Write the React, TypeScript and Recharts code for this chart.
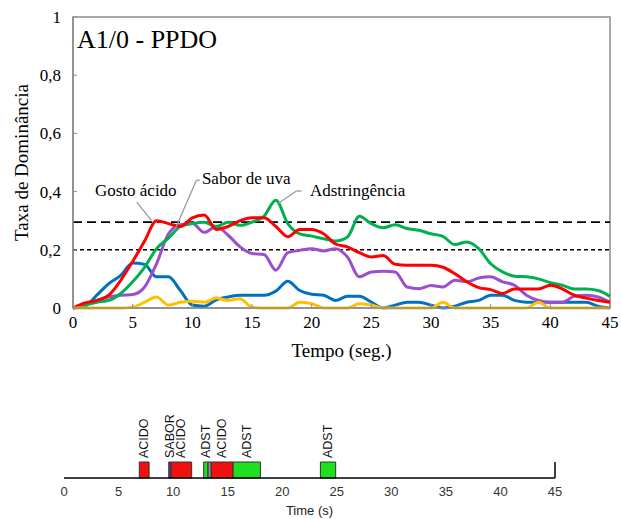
import React from "react";
import {
  LineChart,
  Line,
  XAxis,
  YAxis,
  ReferenceLine,
  ReferenceArea,
  ReferenceDot,
  Label,
  BarChart,
  Bar,
} from "recharts";

// --- painel superior: taxa de dominância (TDS) ---
const tempo = Array.from({ length: 46 }, (_, i) => i);

const gostoAcido = [
  0, 0.017, 0.026, 0.044, 0.095, 0.16, 0.23, 0.3, 0.29, 0.28, 0.31, 0.32, 0.27, 0.28, 0.3, 0.31,
  0.31, 0.28, 0.245, 0.27, 0.27, 0.255, 0.22, 0.21, 0.19, 0.175, 0.18, 0.15, 0.147, 0.147, 0.147,
  0.14, 0.118, 0.09, 0.07, 0.063, 0.05, 0.065, 0.065, 0.065, 0.078, 0.066, 0.044, 0.034, 0.026, 0.02,
];
const saborUva = [
  0, 0.01, 0.026, 0.038, 0.044, 0.046, 0.072, 0.152, 0.255, 0.286, 0.29, 0.26, 0.28, 0.25, 0.21,
  0.187, 0.184, 0.13, 0.19, 0.198, 0.204, 0.196, 0.204, 0.175, 0.107, 0.124, 0.126, 0.124, 0.072,
  0.066, 0.077, 0.072, 0.095, 0.09, 0.103, 0.107, 0.09, 0.078, 0.044, 0.026, 0.02, 0.02, 0.04,
  0.044, 0.038, 0.02,
];
const adstringencia = [
  0, 0.01, 0.02, 0.026, 0.05, 0.09, 0.14, 0.204, 0.24, 0.28, 0.29, 0.295, 0.28, 0.295, 0.284,
  0.295, 0.315, 0.37, 0.29, 0.255, 0.247, 0.238, 0.23, 0.244, 0.315, 0.29, 0.276, 0.286, 0.273,
  0.267, 0.255, 0.246, 0.218, 0.227, 0.204, 0.152, 0.124, 0.109, 0.107, 0.1, 0.087, 0.078, 0.065,
  0.065, 0.06, 0.04,
];
const outroAzul = [
  0, 0.006, 0.044, 0.084, 0.112, 0.155, 0.15, 0.107, 0.107, 0.06, 0.01, 0.006, 0.028, 0.038,
  0.044, 0.044, 0.044, 0.058, 0.092, 0.06, 0.047, 0.044, 0.026, 0.04, 0.04, 0.02, 0, 0.01, 0.02,
  0.02, 0.01, 0, 0.006, 0.02, 0.026, 0.044, 0.044, 0.026, 0.02, 0.02, 0.02, 0.02, 0.02, 0.02,
  0.006, 0,
];
const outroAmarelo = [
  0, 0, 0, 0, 0, 0.003, 0.02, 0.038, 0.01, 0.02, 0.023, 0.02, 0.034, 0.026, 0.032, 0.003, 0, 0,
  0, 0.02, 0.015, 0, 0, 0, 0.015, 0.01, 0, 0, 0, 0, 0, 0.02, 0, 0, 0, 0, 0, 0, 0, 0.02, 0, 0, 0,
  0, 0, 0,
];

const yTicks = [0, 0.2, 0.4, 0.6, 0.8, 1];
const xTicks = [0, 5, 10, 15, 20, 25, 30, 35, 40, 45];
const limiteChance = 0.2;
const limiteSignificancia = 0.295;

// anotações (coordenadas em unidades dos dados)
const anotacoes = [
  { texto: "Gosto ácido", x: 5.26, y: 0.385, anchor: "middle" },
  { texto: "Sabor de uva", x: 10.8, y: 0.425, anchor: "start" },
  { texto: "Adstringência", x: 19.85, y: 0.385, anchor: "start" },
];
const guias = [
  [{ x: 5.34, y: 0.364 }, { x: 6.57, y: 0.301 }],
  [{ x: 8.52, y: 0.267 }, { x: 10.34, y: 0.439 }],
  [{ x: 10.34, y: 0.439 }, { x: 10.62, y: 0.439 }],
  [{ x: 17.18, y: 0.359 }, { x: 18.73, y: 0.402 }],
  [{ x: 18.73, y: 0.402 }, { x: 19.15, y: 0.402 }],
];

// --- painel inferior: atributos dominantes ---
const segInicio = [6.9, 9.6, 9.8, 12.8, 13.2, 13.5, 15.5, 23.5];
const segFim = [7.8, 9.8, 11.7, 13.2, 13.5, 15.5, 18.0, 24.9];
const segAtributo = ["ACIDO", "SABOR", "ACIDO", "ADST", "", "ACIDO", "ADST", "ADST"];
const corAtributo: Record<string, string> = {
  ACIDO: "#F01010",
  SABOR: "#5B2FB8",
  ADST: "#1FE01F",
  "": "#8C8C8C",
};

const dados = tempo.map((t, i) => ({
  t,
  acido: gostoAcido[i],
  uva: saborUva[i],
  adst: adstringencia[i],
  azul: outroAzul[i],
  amarelo: outroAmarelo[i],
}));

const linhaTempo: Record<string, any> = { lane: "dom" };
{
  let anterior = 0;
  segInicio.forEach((s, i) => {
    linhaTempo[`gap${i}`] = +(s - anterior).toFixed(3);
    linhaTempo[`seg${i}`] = +(segFim[i] - s).toFixed(3);
    anterior = segFim[i];
  });
}

const SERIF = "'Liberation Serif', 'Times New Roman', serif";
const SANS = "'Liberation Sans', Arial, sans-serif";
const CINZA = "#8c8c8c";

const rotuloVertical = (texto: string) => (p: any) => {
  if (!texto) return null;
  const cx = p.x + p.width / 2;
  const y = p.y - 4;
  return (
    <text
      x={cx}
      y={y}
      transform={`rotate(-90 ${cx} ${y})`}
      textAnchor="start"
      dominantBaseline="central"
      fontFamily={SANS}
      fontSize={12.5}
      fill="#111"
    >
      {texto}
    </text>
  );
};

export default function App() {
  return (
    <div style={{ position: "absolute", left: 0, top: 0, width: 621, height: 519, background: "#fff" }}>
      <div style={{ position: "absolute", left: 0, top: 0 }}>
        <LineChart width={621} height={380} data={dados} margin={{ top: 17, right: 11, left: 0, bottom: 0 }}>
          <ReferenceArea x1={0} x2={45} y1={0} y2={1} fill="none" stroke={CINZA} strokeWidth={1.5} />
          <XAxis
            dataKey="t"
            type="number"
            domain={[0, 45]}
            ticks={xTicks}
            height={72}
            axisLine={{ stroke: CINZA, strokeWidth: 1.5 }}
            tickLine={{ stroke: CINZA }}
            tickSize={-4}
            tickMargin={12}
            tick={{ fontFamily: SERIF, fontSize: 17, fill: "#000" }}
          >
            <Label
              value="Tempo (seg.)"
              position="insideBottom"
              offset={23}
              style={{ fontFamily: SERIF, fontSize: 19, fill: "#000" }}
            />
          </XAxis>
          <YAxis
            type="number"
            domain={[0, 1]}
            ticks={yTicks}
            width={73}
            axisLine={{ stroke: CINZA, strokeWidth: 1.5 }}
            tickLine={{ stroke: CINZA }}
            tickSize={-4}
            tickMargin={16}
            tickFormatter={(v: number) => String(v).replace(".", ",")}
            tick={{ fontFamily: SERIF, fontSize: 17, fill: "#000" }}
          >
            <Label
              content={(p: any) => {
                const vb = p.viewBox;
                const cy = vb.y + vb.height / 2;
                return (
                  <text
                    x={21}
                    y={cy}
                    transform={`rotate(-90 21 ${cy})`}
                    textAnchor="middle"
                    dominantBaseline="central"
                    fontFamily={SERIF}
                    fontSize={19}
                    fill="#000"
                  >
                    Taxa de Dominância
                  </text>
                );
              }}
            />
          </YAxis>

          <ReferenceLine y={limiteSignificancia} stroke="#000" strokeWidth={1.6} strokeDasharray="9 5" />
          <ReferenceLine y={limiteChance} stroke="#000" strokeWidth={1.6} strokeDasharray="4 3" />

          <Line type="monotone" dataKey="azul" stroke="#0070C0" strokeWidth={3} dot={false} isAnimationActive={false} />
          <Line type="monotone" dataKey="uva" stroke="#9B4FCF" strokeWidth={3} dot={false} isAnimationActive={false} />
          <Line type="monotone" dataKey="adst" stroke="#00B050" strokeWidth={3} dot={false} isAnimationActive={false} />
          <Line type="monotone" dataKey="acido" stroke="#FF0000" strokeWidth={3} dot={false} isAnimationActive={false} />
          <Line type="monotone" dataKey="amarelo" stroke="#FFC000" strokeWidth={3} dot={false} isAnimationActive={false} />

          {guias.map((seg, i) => (
            <ReferenceLine key={`g${i}`} segment={seg} stroke="#9a9a9a" strokeWidth={1.3} />
          ))}
          {anotacoes.map((a) => (
            <ReferenceDot
              key={a.texto}
              x={a.x}
              y={a.y}
              r={1}
              fill="none"
              stroke="none"
              label={{
                content: (p: any) => (
                  <text
                    x={p.viewBox.x + 1}
                    y={p.viewBox.y + 1}
                    textAnchor={a.anchor as any}
                    fontFamily={SERIF}
                    fontSize={17}
                    fill="#000"
                  >
                    {a.texto}
                  </text>
                ),
              }}
            />
          ))}
          <ReferenceDot
            x={0}
            y={1}
            r={1}
            fill="none"
            stroke="none"
            label={{
              content: (p: any) => (
                <text x={p.viewBox.x + 5} y={p.viewBox.y + 32} fontFamily={SERIF} fontSize={26} fill="#000">
                  A1/0 - PPDO
                </text>
              ),
            }}
          />
        </LineChart>
      </div>

      <div style={{ position: "absolute", left: 0, top: 400 }}>
        <BarChart
          width={621}
          height={119}
          layout="vertical"
          data={[linhaTempo]}
          margin={{ top: 62, right: 66, left: 64, bottom: 0 }}
          barCategoryGap={0}
        >
          <XAxis
            type="number"
            domain={[0, 45]}
            ticks={xTicks}
            height={41}
            axisLine={{ stroke: "#000", strokeWidth: 1.5 }}
            tickLine={false}
            tickSize={0}
            tickMargin={9}
            tick={{ fontFamily: SANS, fontSize: 13, fill: "#333" }}
          >
            <Label value="Time (s)" position="insideBottom" offset={4} style={{ fontFamily: SANS, fontSize: 13, fill: "#222" }} />
          </XAxis>
          <YAxis type="category" dataKey="lane" hide />
          {segInicio.map((_, i) => [
            <Bar
              key={`gap${i}`}
              dataKey={`gap${i}`}
              stackId="a"
              fill="transparent"
              isAnimationActive={false}
            />,
            <Bar
              key={`seg${i}`}
              dataKey={`seg${i}`}
              stackId="a"
              fill={corAtributo[segAtributo[i]]}
              stroke="#333"
              strokeWidth={1}
              isAnimationActive={false}
              label={rotuloVertical(segAtributo[i])}
            />,
          ])}
          <ReferenceLine x={45} stroke="#000" strokeWidth={1.5} />
        </BarChart>
      </div>
    </div>
  );
}
